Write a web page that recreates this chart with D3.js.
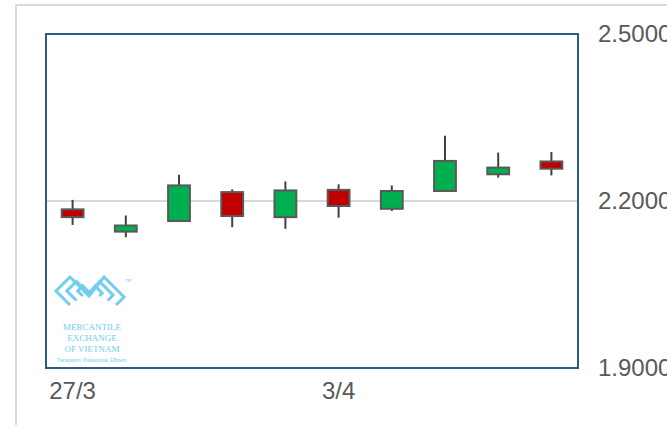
<!DOCTYPE html>
<html>
<head>
<meta charset="utf-8">
<script src="https://cdn.jsdelivr.net/npm/d3@7"></script>
<style>
    body { margin: 0; background: #fff; }
    svg { display: block; font-family: "Liberation Sans", Arial, sans-serif; }
</style>
</head>
<body>
<div id="chart"></div>
<script>
// trading days shown as candles
var dates = ['27/3', '28/3', '29/3', '30/3', '31/3', '3/4', '4/4', '5/4', '6/4', '7/4'];
var tickDates = ['27/3', '3/4'];
var openValues = [2.185, 2.145, 2.164, 2.216, 2.171, 2.220, 2.186, 2.218, 2.248, 2.271];
var highValues = [2.202, 2.174, 2.247, 2.221, 2.235, 2.230, 2.228, 2.317, 2.287, 2.288];
var lowValues = [2.157, 2.135, 2.164, 2.153, 2.150, 2.170, 2.182, 2.218, 2.242, 2.246];
var closeValues = [2.171, 2.156, 2.228, 2.173, 2.219, 2.191, 2.218, 2.272, 2.260, 2.258];
var yTicks = [1.9, 2.2, 2.5];

var width = 667, height = 425;
var plot = { left: 46, right: 578, top: 34, bottom: 368 };

var svg = d3.select('#chart')
    .append('svg')
    .attr('width', width)
    .attr('height', height);

// outer frame (only top and left visible)
svg.append('path')
    .attr('d', 'M16,' + height + 'V5H' + width)
    .attr('fill', 'none')
    .attr('stroke', '#d9d9d9')
    .attr('stroke-width', 2);

var x = d3.scaleBand()
    .domain(dates)
    .range([plot.left, plot.right]);

var y = d3.scaleLinear()
    .domain([1.9, 2.5])
    .range([plot.bottom, plot.top]);

// gridlines (inner only)
svg.selectAll('line.grid')
    .data(yTicks.filter(d => d > 1.9 && d < 2.5))
    .enter()
    .append('line')
    .attr('class', 'grid')
    .attr('x1', plot.left)
    .attr('x2', plot.right)
    .attr('y1', d => y(d))
    .attr('y2', d => y(d))
    .attr('stroke', '#d9d9d9')
    .attr('stroke-width', 2);

// logo: nested chevrons
var logo = svg.append('g')
    .attr('transform', 'translate(90,291)')
    .attr('fill', 'none')
    .attr('stroke', '#72cef0')
    .attr('stroke-width', 3)
    .attr('stroke-linejoin', 'miter');

var chevron = d3.line()([[-20, 14], [-34, 0], [-20, -14], [-1, 5], [14, -14], [34, 6], [26, 14]]);
[1, 0.68, 0.36].forEach(function (s) {
    logo.append('path')
        .attr('d', chevron)
        .attr('transform', 'scale(' + s + ')')
        .attr('stroke-width', 3 / s);
});

var logoText = svg.append('g')
    .attr('fill', '#6fcdf0')
    .attr('text-anchor', 'middle')
    .attr('font-family', '"Liberation Serif", "DejaVu Serif", serif');

logoText.append('text').attr('x', 92).attr('y', 330).attr('font-size', 9).text('MERCANTILE');
logoText.append('text').attr('x', 92).attr('y', 341).attr('font-size', 9).text('EXCHANGE');
logoText.append('text').attr('x', 92).attr('y', 352).attr('font-size', 9).text('OF VIETNAM');
logoText.append('text').attr('x', 92).attr('y', 362).attr('font-size', 4.5)
    .attr('font-family', '"Liberation Sans", sans-serif').text('Transparent. Professional. Efficient.');
logoText.append('text').attr('x', 128).attr('y', 282).attr('font-size', 4).text('TM');

// candles
var bodyW = x.bandwidth() * 0.41;
var candles = svg.selectAll('g.candle')
    .data(dates.map((d, i) => ({
        date: d,
        open: openValues[i],
        high: highValues[i],
        low: lowValues[i],
        close: closeValues[i]
    })))
    .enter()
    .append('g')
    .attr('class', 'candle');

candles.append('line')
    .attr('x1', d => x(d.date) + x.bandwidth() / 2)
    .attr('x2', d => x(d.date) + x.bandwidth() / 2)
    .attr('y1', d => y(d.high))
    .attr('y2', d => y(d.low))
    .attr('stroke', '#404040')
    .attr('stroke-width', 2);

candles.append('rect')
    .attr('x', d => x(d.date) + (x.bandwidth() - bodyW) / 2)
    .attr('width', bodyW)
    .attr('y', d => y(Math.max(d.open, d.close)))
    .attr('height', d => Math.abs(y(d.open) - y(d.close)))
    .attr('fill', d => d.close >= d.open ? '#00b050' : '#c00000')
    .attr('stroke', '#595959')
    .attr('stroke-width', 2);

// plot border
svg.append('rect')
    .attr('x', plot.left)
    .attr('y', plot.top)
    .attr('width', plot.right - plot.left)
    .attr('height', plot.bottom - plot.top)
    .attr('fill', 'none')
    .attr('stroke', '#2c5d8a')
    .attr('stroke-width', 2);

// axes
var yAxis = svg.append('g')
    .attr('transform', 'translate(' + plot.right + ',0)')
    .call(d3.axisRight(y).tickValues(yTicks).tickSize(0).tickPadding(20).tickFormat(d3.format('.4f')));

var xAxis = svg.append('g')
    .attr('transform', 'translate(0,' + plot.bottom + ')')
    .call(d3.axisBottom(x).tickValues(tickDates).tickSize(0).tickPadding(14));

[yAxis, xAxis].forEach(function (ax) {
    ax.select('.domain').remove();
    ax.selectAll('text')
        .attr('fill', '#595959')
        .attr('font-size', 24)
        .attr('font-family', '"Liberation Sans", Arial, sans-serif');
});
</script>
</body>
</html>
